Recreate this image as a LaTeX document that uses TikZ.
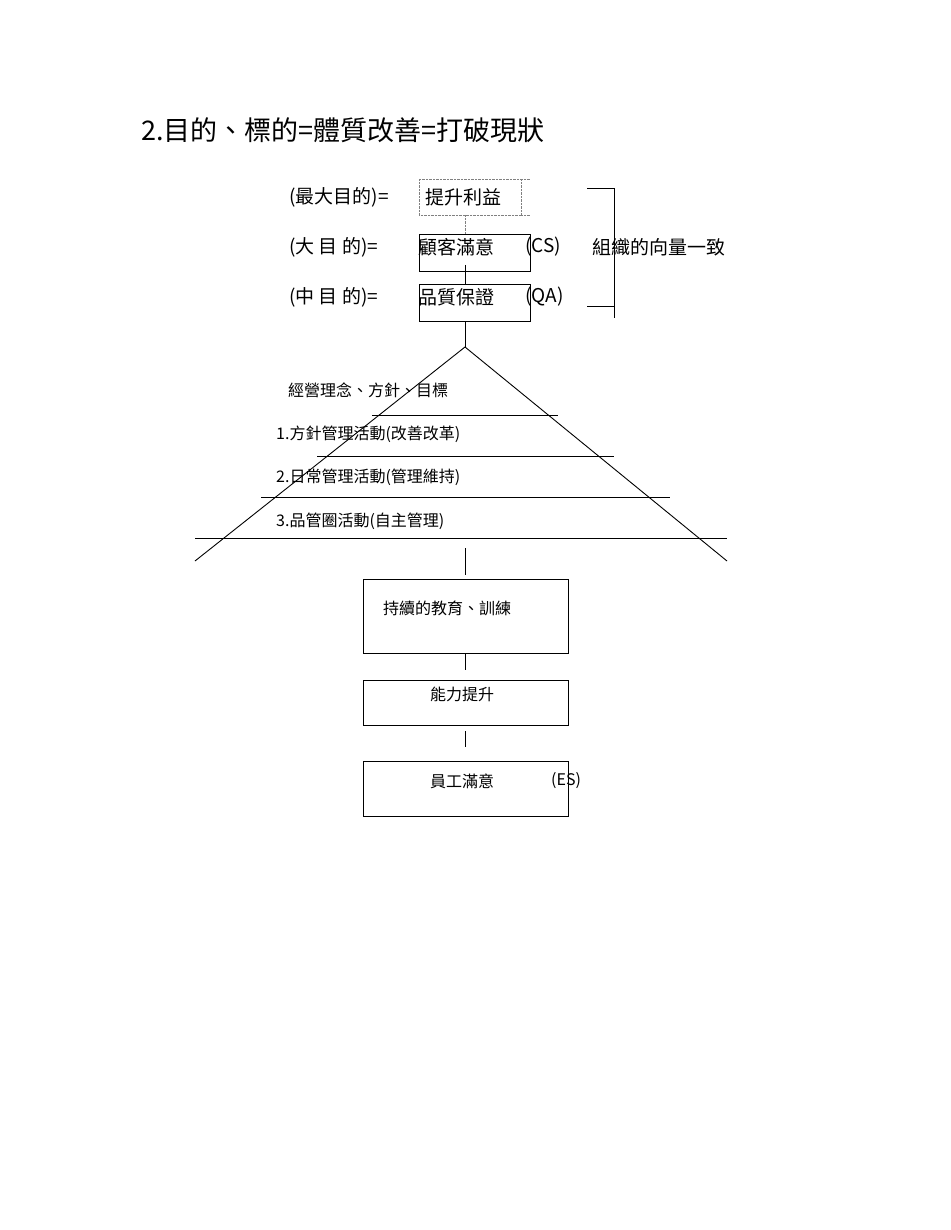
\documentclass[tikz,border=0pt]{standalone}
\usepackage{fontspec}
\setmainfont{DejaVu Sans}
\newfontfamily\cjk{Noto Sans CJK TC}
\begin{document}
\begin{tikzpicture}[x=1pt,y=-1pt,
  txt/.style={anchor=west,inner sep=0pt,font=\cjk\fontsize{19}{19}\selectfont},
  sm/.style={anchor=west,inner sep=0pt,font=\cjk\fontsize{16}{16}\selectfont},
  ln/.style={line width=0.9pt}]
\useasboundingbox (0,0) rectangle (950,1230);
\node[anchor=west,inner sep=0pt,font=\cjk\fontsize{27}{27}\selectfont] (title) at (141,130) {2.目的、標的=體質改善=打破現狀};
% boxes
\draw[densely dotted,gray] (419,179) rectangle (521,215);
\draw[densely dotted,gray] (521,179) -- (530,179) (521,215) -- (530,215);
\draw[ln] (419,234) rectangle (530,271);
\draw[ln] (419,284) rectangle (530,321);
\coordinate (d1) at (465,215); \coordinate (d2) at (465,234);
\draw[densely dotted,gray] (d1) -- (d2);
\draw[ln] (465,265) -- (465,284);
\coordinate (apex) at (465,347);
\draw[ln] (465,321) -- (apex);
% labels
\node[txt] (l1) at (289,197) {(最大目的)=};
\node[txt] (b1) at (425,197) {提升利益};
\node[txt] (l2) at (289,247) {(大 目 的)=};
\node[txt] (b2) at (418,247) {顧客滿意};
\node[txt] (cs) at (525,247) {(CS)};
\node[txt] (l3) at (289,297) {(中 目 的)=};
\node[txt] (b3) at (418,297) {品質保證};
\node[txt] (qa) at (525,297) {(QA)};
\node[txt] (org) at (592,247) {組織的向量一致};
% bracket
\draw[ln] (587,188) -- (614,188) -- (614,318);
\draw[ln] (587,306) -- (614,306);
% pyramid
\draw[ln] (195,561) -- (apex) -- (727,561);
\draw[ln] (372,415) -- (558,415);
\draw[ln] (317,456) -- (614,456);
\draw[ln] (261,497) -- (670,497);
\draw[ln] (195,538) -- (727,538);
\node[sm] (p0) at (288,390) {經營理念、方針、目標};
\node[sm] (p1) at (276,434) {1.方針管理活動(改善改革)};
\node[sm] (p2) at (276,477) {2.日常管理活動(管理維持)};
\node[sm] (p3) at (276,521) {3.品管圈活動(自主管理)};
% lower boxes
\draw[ln] (465,548) -- (465,575);
\draw[ln] (363,579) rectangle (568,653);
\draw[ln] (465,653) -- (465,670);
\draw[ln] (363,680) rectangle (568,725);
\draw[ln] (465,731) -- (465,747);
\draw[ln] (363,761) rectangle (568,816);
\node[sm] (e1) at (383,608) {持續的教育、訓練};
\node[sm] (e2) at (430,694) {能力提升};
\node[sm] (e3) at (430,781) {員工滿意};
\node[sm] (es) at (551,781) {(ES)};
\end{tikzpicture}
\end{document}
